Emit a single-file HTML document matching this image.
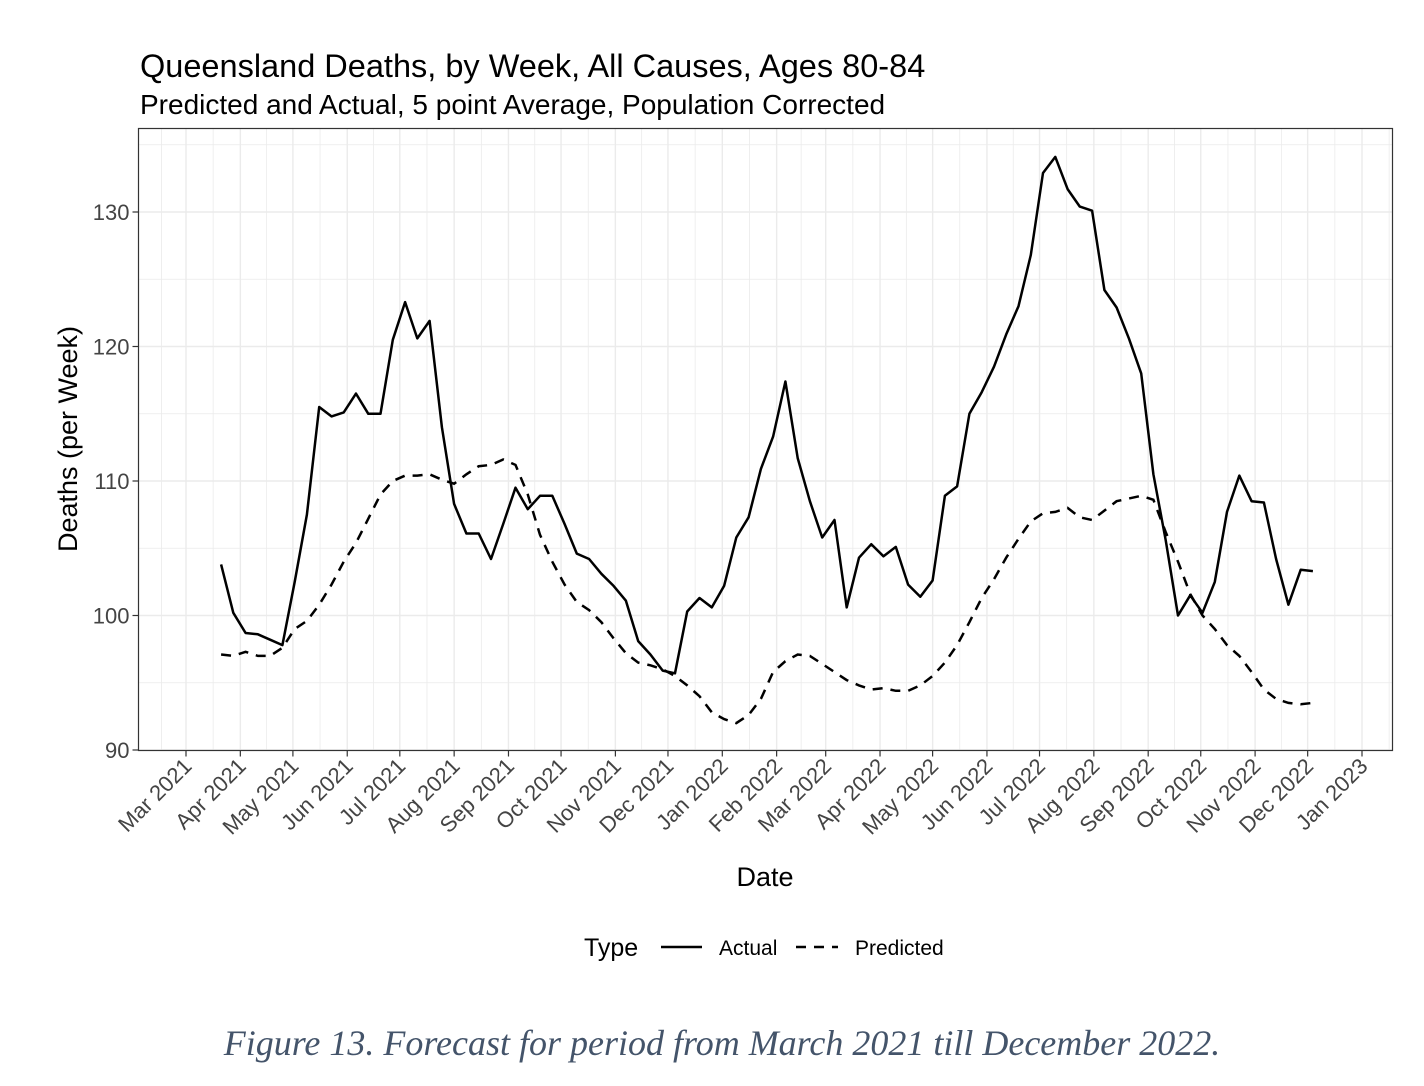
<!DOCTYPE html>
<html><head><meta charset="utf-8">
<style>
body{margin:0;background:#fff;width:1424px;height:1086px;overflow:hidden;font-family:"Liberation Sans",sans-serif;}
svg{position:absolute;left:0;top:0}
</style></head>
<body>
<svg id="chart" width="1424" height="1086" xmlns="http://www.w3.org/2000/svg">
<text x="140" y="77" font-size="32.5" fill="#000">Queensland Deaths, by Week, All Causes, Ages 80-84</text>
<text x="140" y="114" font-size="28" fill="#000">Predicted and Actual, 5 point Average, Population Corrected</text>
<g id="grid"></g>
<g id="series"></g>
<rect x="138.5" y="128.5" width="1254" height="622" fill="none" stroke="#333" stroke-width="1.2"/>
<g id="axes"></g>
<text x="765" y="886" font-size="27" text-anchor="middle" fill="#000">Date</text>
<text transform="translate(77,439) rotate(-90)" font-size="27" text-anchor="middle" fill="#000">Deaths (per Week)</text>
<g>
<text x="584" y="956" font-size="25" fill="#000">Type</text>
<line x1="661" y1="947" x2="702" y2="947" stroke="#000" stroke-width="2.5"/>
<text x="719" y="955" font-size="21" fill="#000">Actual</text>
<line x1="796" y1="947" x2="838" y2="947" stroke="#000" stroke-width="2.5" stroke-dasharray="10,8"/>
<text x="855" y="955" font-size="21" fill="#000">Predicted</text>
</g>
<text x="722" y="1055" font-size="36" font-style="italic" font-family="'Liberation Serif',serif" text-anchor="middle" fill="#44546a">Figure 13. Forecast for period from March 2021 till December 2022.</text>
</svg>
<script>
const startDate = "2021-03-21";
const actual = [103.8,100.2,98.7,98.6,98.2,97.8,102.5,107.5,115.5,114.8,115.1,116.5,115.0,115.0,120.5,123.3,120.6,121.9,114,108.3,106.1,106.1,104.2,106.8,109.5,107.9,108.9,108.9,106.8,104.6,104.2,103.1,102.2,101.1,98.1,97.1,95.9,95.7,100.3,101.3,100.6,102.2,105.8,107.3,110.9,113.3,117.4,111.7,108.5,105.8,107.1,100.6,104.3,105.3,104.4,105.1,102.3,101.4,102.6,108.9,109.6,115.0,116.6,118.5,120.9,123.0,126.8,132.9,134.1,131.7,130.4,130.1,124.2,122.9,120.6,118.0,110.5,105.6,100.0,101.5,100.2,102.5,107.7,110.4,108.5,108.4,104.2,100.8,103.4,103.3];
const predicted = [97.1,97.0,97.3,97.0,97.0,97.6,99.0,99.6,100.8,102.3,104.0,105.4,107.2,109.0,110.0,110.4,110.4,110.5,110.1,109.8,110.5,111.1,111.2,111.6,111.2,109.0,106.0,104.0,102.3,101.0,100.4,99.5,98.3,97.2,96.5,96.3,96.0,95.5,94.8,94.0,92.8,92.3,92.0,92.6,93.8,95.8,96.6,97.1,97.0,96.4,95.8,95.2,94.8,94.5,94.6,94.4,94.4,94.8,95.5,96.5,97.8,99.5,101.3,102.7,104.3,105.7,107.0,107.6,107.7,108.0,107.3,107.1,107.8,108.5,108.7,108.9,108.6,106.2,104.0,101.6,100.0,99.0,97.8,97.0,95.8,94.5,93.8,93.5,93.4,93.5];
const yTicks = [90,100,110,120,130];
const monthLabels = ["Mar 2021","Apr 2021","May 2021","Jun 2021","Jul 2021","Aug 2021","Sep 2021","Oct 2021","Nov 2021","Dec 2021","Jan 2022","Feb 2022","Mar 2022","Apr 2022","May 2022","Jun 2022","Jul 2022","Aug 2022","Sep 2022","Oct 2022","Nov 2022","Dec 2022","Jan 2023"];

const NS="http://www.w3.org/2000/svg";
const x0=Date.UTC(2021,2,1), x1=Date.UTC(2023,0,1);
const X=t=>186+(t-x0)/(x1-x0)*1176;
const Y=v=>750-(v-90)/40*538;
const L=138.5,R=1392.5,T=128.5,B=750.5;
function el(tag,attrs,parent){const e=document.createElementNS(NS,tag);for(const k in attrs)e.setAttribute(k,attrs[k]);parent.appendChild(e);return e;}
const grid=document.getElementById('grid'),axes=document.getElementById('axes'),series=document.getElementById('series');
el('rect',{x:L,y:T,width:R-L,height:B-T,fill:'#fff'},grid);
for(let v=85;v<=140;v+=5){const y=Y(v);if(y<T||y>B)continue;
 const g=el('line',{x1:L,x2:R,y1:y,y2:y,stroke:'#ebebeb','stroke-width':v%10===0?1.4:0.8},grid);
 
 }
function monthDate(i){return Date.UTC(2021,2+i,1);}
for(let i=-1;i<monthLabels.length+1;i++){
 const xa=X(monthDate(i)), xb=X(monthDate(i+1)), xm=(xa+xb)/2;
 if(xm>L&&xm<R){const g=el('line',{x1:xm,x2:xm,y1:T,y2:B,stroke:'#ebebeb','stroke-width':0.8},grid);
  
  }
 if(i>=0&&i<monthLabels.length){const g=el('line',{x1:xa,x2:xa,y1:T,y2:B,stroke:'#ebebeb','stroke-width':1.4},grid);
  
  }
}
monthLabels.forEach((lab,i)=>{const x=X(monthDate(i));
 const tk=el('line',{x1:x,x2:x,y1:B,y2:B+6,stroke:'#333','stroke-width':1.2},axes);
 
 
 const t=el('text',{transform:`translate(${x+7},${B+17}) rotate(-45)`,'text-anchor':'end','font-size':22,fill:'#444'},axes);
 t.textContent=lab;
 
 });
yTicks.forEach(v=>{const y=Y(v);
 const tk=el('line',{x1:L-6,x2:L,y1:y,y2:y,stroke:'#333','stroke-width':1.2},axes);
 
 
 const t=el('text',{x:L-9,y:y+8,'text-anchor':'end','font-size':22,fill:'#444'},axes);
 t.textContent=v;
 
 });
const s0=Date.UTC(2021,2,21);
function path(vals){return vals.map((v,i)=>(i?'L':'M')+X(s0+i*7*86400000).toFixed(1)+','+Y(v).toFixed(1)).join(' ');}
const pp=el('path',{d:path(predicted),fill:'none',stroke:'#000','stroke-width':2.5,'stroke-dasharray':'10,8'},series);


const pa=el('path',{d:path(actual),fill:'none',stroke:'#000','stroke-width':2.5,'stroke-linejoin':'round'},series);


</script>
</body></html>
